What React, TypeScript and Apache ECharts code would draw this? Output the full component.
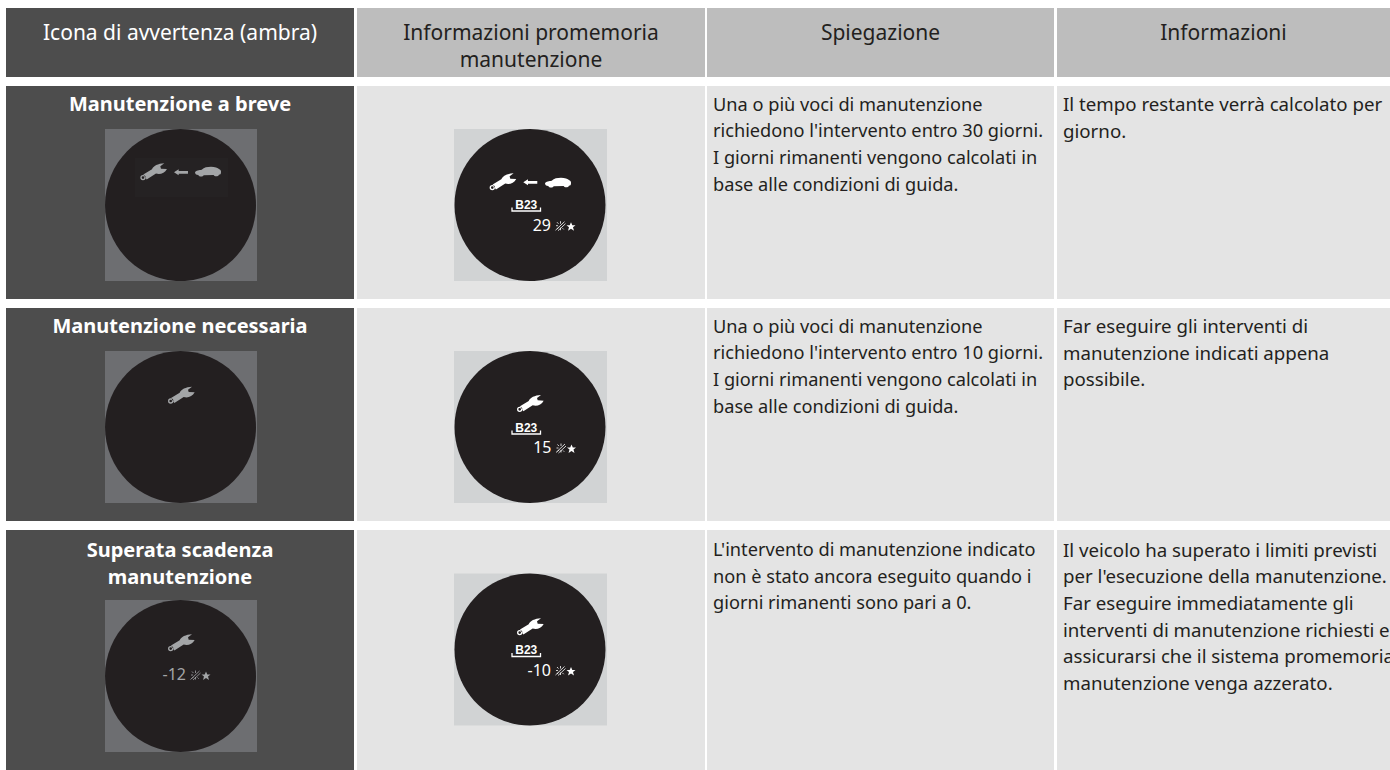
import React, { useEffect, useRef } from "react";
import * as echarts from "echarts";

const headerLines = [
  ["Icona di avvertenza (ambra)"],
  ["Informazioni promemoria", "manutenzione"],
  ["Spiegazione"],
  ["Informazioni"],
];
const rowTitles = [
  ["Manutenzione a breve"],
  ["Manutenzione necessaria"],
  ["Superata scadenza", "manutenzione"],
];
const explanations = [
  ["Una o più voci di manutenzione", "richiedono l'intervento entro 30 giorni.", "I giorni rimanenti vengono calcolati in", "base alle condizioni di guida."],
  ["Una o più voci di manutenzione", "richiedono l'intervento entro 10 giorni.", "I giorni rimanenti vengono calcolati in", "base alle condizioni di guida."],
  ["L'intervento di manutenzione indicato", "non è stato ancora eseguito quando i", "giorni rimanenti sono pari a 0."],
];
const infos = [
  ["Il tempo restante verrà calcolato per", "giorno."],
  ["Far eseguire gli interventi di", "manutenzione indicati appena", "possibile."],
  ["Il veicolo ha superato i limiti previsti", "per l'esecuzione della manutenzione.", "Far eseguire immediatamente gli", "interventi di manutenzione richiesti e", "assicurarsi che il sistema promemoria", "manutenzione venga azzerato."],
];
const daysRemaining = ["29", "15", "-10"];
const amberDays = "-12";
const codeLabel = "B23";

const FONT = '"Noto Sans"';
const DARK = "#4d4d4d";
const HEAD = "#bdbdbd";
const CELL = "#e4e4e4";
const INK = "#231f20";

echarts.graphic.registerShape(
  "wrench",
  echarts.graphic.extendPath(
    "M10 34 L36 18 C40 8 54 1 73 0 L61 9 L63 16 L81 17 C74 31 60 34 48 31 L20 49 Z M1 43 A8 8 0 1 0 17 43 A8 8 0 1 0 1 43 Z M5 43 A4 4 0 1 1 13 43 A4 4 0 1 1 5 43 Z",
    {}
  )
);
echarts.graphic.registerShape(
  "car",
  echarts.graphic.extendPath(
    "M0 17 C2 11 14 10 20 9 C28 2 36 0 48 0 C60 0 68 3 73 8 C77 10 79 13 78 18 C78 22 76 24 72 24 C70 30 58 30 56 25 L26 26 C24 31 12 31 10 25 C3 25 0 22 0 17 Z",
    {}
  )
);
echarts.graphic.registerShape(
  "leftArrow",
  echarts.graphic.extendPath("M0 9 L14 0 L14 5 L42 5 L42 13 L14 13 L14 18 Z", {})
);
echarts.graphic.registerShape(
  "star5",
  echarts.graphic.extendPath("M4.5 0 L5.8 3 L9 3 L6.5 5.1 L7.5 8.5 L4.5 6.6 L1.5 8.5 L2.5 5.1 L0 3 L3.2 3 Z", {})
);
echarts.graphic.registerShape(
  "burst",
  echarts.graphic.extendPath(
    "M5 0 L5 2.5 M0.5 4.5 L2.5 4.5 M1.5 1 L3 2.6 M1.5 8 L3 6.4 M5 9 L5 6.5 M0 9 L9 0.5 M2.5 9.5 L10 2.5 M7 7 L8.2 8.2",
    {}
  )
);

function text(t: string, x: number, y: number, fill: string, size: number, opts: any = {}) {
  return {
    type: "text",
    silent: true,
    z: 5,
    style: {
      text: t,
      x,
      y,
      fill,
      font: `${opts.weight || "normal"} ${size}px ${opts.family || FONT}`,
      textAlign: opts.align || "left",
      textVerticalAlign: "middle",
    },
  };
}
function rect(x: number, y: number, w: number, h: number, fill: string, z = 1) {
  return { type: "rect", silent: true, z, shape: { x, y, width: w, height: h }, style: { fill } };
}
function icon(type: string, x: number, y: number, s: number, fill: string) {
  return { type, silent: true, z: 4, x, y, scaleX: s, scaleY: s, style: { fill, stroke: "none" } };
}
function dial(x: number, y: number, w: number, h: number, square: string) {
  return [
    rect(x, y, w, h, square, 2),
    {
      type: "ellipse",
      silent: true,
      z: 3,
      shape: { cx: x + w / 2 - 0.5, cy: y + h / 2, rx: 75.5, ry: 76 },
      style: { fill: INK },
    },
  ];
}
function dayReading(label: string, right: number, cy: number, fill: string) {
  return [
    text(label, right, cy, fill, 16, { align: "right" }),
    {
      type: "burst",
      silent: true,
      z: 4,
      x: right + 4.5,
      y: cy - 3.5,
      style: { fill: "none", stroke: fill, lineWidth: 0.8 },
    },
    icon("star5", right + 15.5, cy - 2.5, 1, fill),
  ];
}
function maintenanceBlock(cy: number, fill: string) {
  return [
    text(codeLabel, 526.3, cy, fill, 12, { weight: "bold", align: "center", family: '"Liberation Sans"' }),
    {
      type: "polyline",
      silent: true,
      z: 4,
      shape: { points: [[512, cy + 3], [512, cy + 6.5], [540.5, cy + 6.5], [540.5, cy + 3]] },
      style: { fill: "none", stroke: fill, lineWidth: 1.3 },
    },
  ];
}

const colX = [6, 357, 707, 1057];
const colW = [348, 348, 347, 333];
const rowY = [86, 308, 530];
const rowH = [213, 213, 240];
const dialY = [129, 351, 573.5];
const amberDialY = [129, 351, 600];
const textStartY = [103.5, 325.5, 549];
const LINE = 26.7;
const HEADER_SIZE = 21;
const TITLE_SIZE = 20;
const EXPLANATION_SIZE = 18.2;
const INFO_SIZE = 18.7;
const GREY = "#a3a5a7";
const WHITE = "#ffffff";

function buildGraphics() {
  const out: any[] = [];
  headerLines.forEach((lines, c) => {
    out.push(rect(colX[c], 8, colW[c], 69, c === 0 ? DARK : HEAD));
    lines.forEach((l, i) => {
      out.push(text(l, colX[c] + colW[c] / 2, 32 + i * 26.7, c === 0 ? WHITE : INK, HEADER_SIZE, { align: "center" }));
    });
  });
  rowTitles.forEach((lines, r) => {
    colX.forEach((x, c) => out.push(rect(x, rowY[r], colW[c], rowH[r], c === 0 ? DARK : CELL)));
    lines.forEach((l, i) => {
      out.push(text(l, 180, textStartY[r] + i * 27.5, WHITE, TITLE_SIZE, { weight: "bold", align: "center" }));
    });
    explanations[r].forEach((l, i) => out.push(text(l, 713, textStartY[r] + i * LINE, INK, EXPLANATION_SIZE)));
    infos[r].forEach((l, i) => out.push(text(l, 1063, textStartY[r] + i * LINE, INK, INFO_SIZE)));
    out.push(...dial(105, amberDialY[r], 152, 152, "#6d6e71"));
    out.push(...dial(454, dialY[r], 153, 152, "#d1d3d4"));
  });

  // Row 1
  out.push(rect(135, 158, 93, 39, "#252223", 3.5));
  out.push(icon("wrench", 140, 163.3, 1 / 3, GREY));
  out.push(icon("leftArrow", 174, 169.3, 1 / 3, GREY));
  out.push(icon("car", 195, 166.7, 1 / 3, GREY));
  out.push(icon("wrench", 489.3, 173.3, 1 / 3, WHITE));
  out.push(icon("leftArrow", 523.3, 179.3, 1 / 3, WHITE));
  out.push(icon("car", 545, 177.7, 1 / 3, WHITE));
  out.push(...maintenanceBlock(204.5, WHITE));
  out.push(...dayReading(daysRemaining[0], 551, 224.7, WHITE));

  // Row 2
  out.push(icon("wrench", 167.7, 386.7, 1 / 3, GREY));
  out.push(icon("wrench", 516.7, 395, 1 / 3, WHITE));
  out.push(...maintenanceBlock(427.5, WHITE));
  out.push(...dayReading(daysRemaining[1], 551.5, 447, WHITE));

  // Row 3
  out.push(icon("wrench", 167.7, 634.3, 1 / 3, GREY));
  out.push(...dayReading(amberDays, 186, 674, GREY));
  out.push(icon("wrench", 516.7, 618.3, 1 / 3, WHITE));
  out.push(...maintenanceBlock(650, WHITE));
  out.push(...dayReading(daysRemaining[2], 551, 669.5, WHITE));
  return out;
}

export default function App() {
  const ref = useRef<HTMLDivElement>(null);
  useEffect(() => {
    const chart = echarts.init(ref.current!, null, { renderer: "svg" });
    chart.setOption({ animation: false, backgroundColor: "#ffffff", graphic: { elements: buildGraphics() } });
    return () => chart.dispose();
  }, []);
  return <div ref={ref} style={{ position: "fixed", left: 0, top: 0, width: 1390, height: 770 }} />;
}
